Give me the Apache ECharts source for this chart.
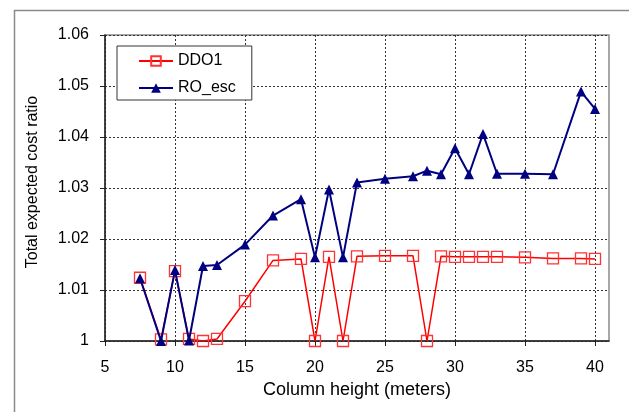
<!DOCTYPE html>
<html>
<head>
<meta charset="utf-8">
<script src="https://cdn.jsdelivr.net/npm/echarts@6/dist/echarts.min.js"></script>
<style>html,body{margin:0;padding:0;background:#fff;}#c{width:629px;height:412px;}</style>
</head>
<body>
<div id="c"></div>
<script>
var heights = [7.5, 9, 10, 11, 12, 13, 15, 17, 19, 20, 21, 22, 23, 25, 27, 28, 29, 30, 31, 32, 33, 35, 37, 39, 40];
var ddo1 = [1.0124, 1.0003, 1.0137, 1.0004, 1.0000, 1.0004, 1.0078, 1.0158, 1.0161, 1.0000, 1.0165, 1.0000, 1.0166, 1.0167, 1.0167, 1.0000, 1.0166, 1.0165, 1.0165, 1.0165, 1.0165, 1.0164, 1.0162, 1.0162, 1.0161];
var roEsc = [1.0123, 1.0000, 1.0139, 1.0001, 1.0147, 1.0149, 1.0189, 1.0246, 1.0278, 1.0164, 1.0297, 1.0164, 1.0311, 1.0318, 1.0323, 1.0334, 1.0327, 1.0378, 1.0327, 1.0406, 1.0328, 1.0328, 1.0327, 1.0489, 1.0455];
var xTicks = [5, 10, 15, 20, 25, 30, 35, 40];
var yTicks = [1, 1.01, 1.02, 1.03, 1.04, 1.05, 1.06];

function pairs(xs, ys) { return xs.map(function (x, i) { return [x, ys[i]]; }); }

var font = 'Liberation Sans, Arial, sans-serif';
var chart = echarts.init(document.getElementById('c'), null, { renderer: 'canvas' });
chart.setOption({
  animation: false,
  backgroundColor: '#fff',
  graphic: [{
    type: 'rect', left: 12, top: 8, z: -10,
    shape: { width: 700, height: 500 },
    style: { fill: 'none', stroke: '#8a8a8a', lineWidth: 1.5 }
  }],
  grid: { left: 105, right: 20, top: 35, bottom: 71, show: true, borderColor: '#8a8a8a', borderWidth: 1.5, backgroundColor: 'transparent' },
  legend: {
    orient: 'vertical', left: 117, top: 46,
    backgroundColor: '#fff', borderColor: '#333', borderWidth: 1,
    padding: [7, 16, 4, 21], itemWidth: 34, itemHeight: 12, itemGap: 11,
    textStyle: { fontFamily: font, fontSize: 16, color: '#000', lineHeight: 16 },
    data: ['DDO1', 'RO_esc']
  },
  xAxis: {
    type: 'value', min: 5, max: 41, interval: 5,
    name: 'Column height (meters)', nameLocation: 'middle', nameGap: 40,
    nameTextStyle: { fontFamily: font, fontSize: 18, color: '#000' },
    axisLine: { show: true, onZero: false, lineStyle: { color: '#222', width: 1.5 } },
    axisTick: { show: true, inside: false, length: 5, lineStyle: { color: '#222' }, customValues: xTicks },
    axisLabel: { fontFamily: font, fontSize: 16, color: '#000', margin: 19, customValues: xTicks },
    splitLine: { show: true, lineStyle: { color: '#333', type: [2, 2], width: 1 } }
  },
  yAxis: {
    type: 'value', min: 1, max: 1.06, interval: 0.01,
    name: 'Total expected cost ratio', nameLocation: 'middle', nameGap: 64,
    nameTextStyle: { fontFamily: font, fontSize: 16, color: '#000', padding: [0, 0, 0, 12] },
    axisLine: { show: true, lineStyle: { color: '#222', width: 1.5 } },
    axisTick: { show: true, inside: false, length: 5, lineStyle: { color: '#222' } },
    axisLabel: { fontFamily: font, fontSize: 16, color: '#000', margin: 16,
      formatter: function (v) { return String(+v.toFixed(2)); } },
    splitLine: { show: true, lineStyle: { color: '#333', type: [2, 2], width: 1 } }
  },
  series: [{
    name: 'DDO1', type: 'line', data: pairs(heights, ddo1),
    symbol: 'rect', symbolSize: 11, showAllSymbol: true,
    lineStyle: { color: '#ff0000', width: 1.5 },
    itemStyle: { color: 'rgba(255,255,255,0)', borderColor: '#ff3333', borderWidth: 1.3 },
    z: 2
  }, {
    name: 'RO_esc', type: 'line', data: pairs(heights, roEsc),
    symbol: 'triangle', symbolSize: 10, showAllSymbol: true,
    lineStyle: { color: '#000080', width: 2 },
    itemStyle: { color: '#000080' },
    z: 3
  }]
});
</script>
</body>
</html>
